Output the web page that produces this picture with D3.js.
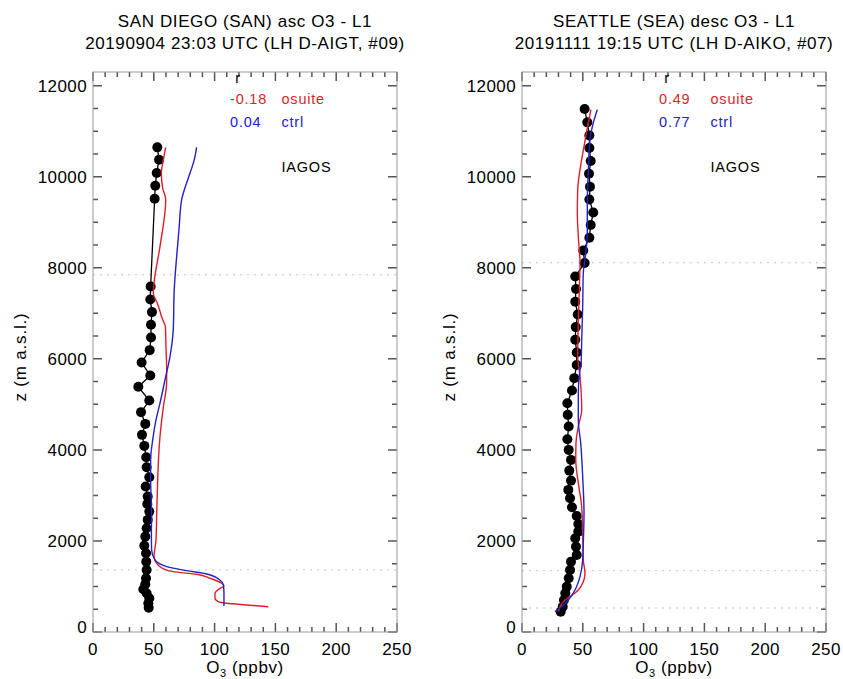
<!DOCTYPE html>
<html>
<head>
<meta charset="utf-8">
<script src="https://cdn.jsdelivr.net/npm/d3@7"></script>
<style>
  body { margin: 0; background: #fff; }
  text { font-family: "Liberation Sans", Arial, sans-serif; }
</style>
</head>
<body>
<svg width="843" height="679"></svg>
<script>
// ---- data: [O3 ppbv, altitude m] ----
const sanObs = [
  [52.9, 10645], [54.3, 10374], [52.4, 10080], [51.2, 9802], [50.7, 9516],
  [47.4, 7590], [47.1, 7303], [48.5, 7026], [47.7, 6747], [47.7, 6468],
  [46.6, 6191], [40.0, 5919], [47.1, 5633], [37.3, 5385], [46.3, 5084],
  [39.5, 4829], [43.0, 4571], [40.3, 4330], [42.2, 4088], [43.8, 3839],
  [44.1, 3620], [46.3, 3400], [43.3, 3194], [45.0, 2974], [44.6, 2810],
  [46.3, 2644], [45.0, 2462], [44.1, 2279], [43.0, 2095], [42.2, 1897],
  [43.6, 1729], [43.8, 1545], [44.1, 1363], [43.6, 1180], [43.0, 1050],
  [41.4, 938], [44.1, 850], [46.3, 740], [45.5, 630], [45.8, 535]
];
const sanOsuite = [
  [59.8, 10645], [57.9, 10374], [56.2, 10080], [57.3, 9752], [59.8, 9495],
  [55.1, 8468], [50.2, 7663], [49.6, 7443], [52.9, 7223], [57.3, 6857],
  [59.5, 6710], [60.0, 6270], [60.6, 5758], [60.5, 5450], [57.9, 4952],
  [55.1, 4293], [54.0, 3853], [53.2, 3341], [52.4, 2608], [51.8, 2022],
  [50.2, 1655], [55.1, 1435], [66.0, 1325], [85.2, 1268], [96.2, 1180],
  [105.8, 1070], [107.7, 1011], [104.4, 960], [100.3, 850], [100.3, 740],
  [103.0, 666], [109.9, 630], [126.4, 593], [144.2, 556]
];
const sanCtrl = [
  [85.2, 10645], [83.3, 10374], [79.8, 10080], [74.3, 9642], [72.9, 9495],
  [70.7, 8835], [68.8, 8249], [66.8, 7516], [66.0, 6637], [63.3, 6051],
  [59.2, 5538], [55.1, 5026], [51.8, 4659], [49.1, 4220], [47.4, 3780],
  [47.4, 3341], [48.2, 2608], [48.0, 2169], [48.2, 1802], [51.0, 1582],
  [60.6, 1435], [77.0, 1347], [93.5, 1275], [104.4, 1143], [107.2, 1033],
  [107.7, 850], [107.7, 571]
];
const seaObs = [
  [51.5, 11488], [53.7, 11194], [55.4, 10908], [55.4, 10631], [56.5, 10345],
  [55.1, 10066], [55.9, 9780], [55.4, 9501], [58.6, 9215], [56.5, 8938],
  [55.4, 8659], [50.4, 8380], [51.5, 8103], [43.8, 7809], [44.4, 7532],
  [43.8, 7253], [45.8, 6974], [44.2, 6697], [43.8, 6418], [45.0, 6139],
  [45.0, 5865], [43.0, 5576], [41.1, 5303], [37.3, 5026], [37.6, 4769],
  [38.4, 4512], [37.3, 4235], [38.4, 4000], [40.3, 3780], [38.9, 3545],
  [40.3, 3325], [38.1, 3121], [39.5, 2938], [41.1, 2741], [45.0, 2549],
  [46.3, 2374], [46.3, 2205], [43.8, 2059], [44.4, 1875], [45.0, 1692],
  [40.3, 1545], [39.5, 1363], [38.4, 1180], [36.8, 996], [35.6, 850],
  [34.5, 703], [33.5, 556], [31.8, 446]
];
const seaOsuite = [
  [56.7, 11473], [54.5, 11180], [51.0, 10667], [47.7, 10154], [45.8, 9714],
  [45.5, 9202], [46.3, 8688], [47.7, 8103], [47.1, 7516], [46.3, 6784],
  [45.8, 6051], [47.7, 5612], [49.1, 4879], [46.3, 4512], [44.4, 4147],
  [44.2, 3780], [46.3, 3268], [49.1, 2754], [49.9, 2169], [50.4, 1582],
  [51.8, 1290], [50.4, 1106], [46.3, 923], [39.5, 776], [35.4, 703],
  [31.3, 556], [29.9, 446]
];
const seaCtrl = [
  [61.9, 11473], [58.6, 11180], [55.9, 10813], [54.5, 10081], [53.7, 9495],
  [53.7, 8762], [52.1, 8249], [50.4, 7883], [49.9, 7150], [49.1, 6418],
  [48.5, 5831], [47.7, 5758], [46.3, 5246], [46.3, 4659], [48.3, 4147],
  [49.9, 3414], [51.0, 2608], [50.4, 1949], [49.9, 1582], [47.7, 1216],
  [43.6, 923], [38.1, 703], [32.6, 556], [27.1, 446]
];

// dotted reference levels (m)
const sanLevels = [7846, 1363];
const seaLevels = [8110, 1347, 527];

// correlation coefficients
const sanR = ['-0.18', '0.04'];
const seaR = ['0.49', '0.77'];

const sanTitle = ['SAN DIEGO (SAN) asc O3 - L1', '20190904 23:03 UTC (LH D-AIGT, #09)'];
const seaTitle = ['SEATTLE (SEA) desc O3 - L1', '20191111 19:15 UTC (LH D-AIKO, #07)'];

const xTicks = [0, 50, 100, 150, 200, 250];
const yTicks = [0, 2000, 4000, 6000, 8000, 10000, 12000];
const xMinor = d3.range(10, 250, 10).filter(v => v % 50 !== 0);
const yMinor = d3.range(500, 12300, 500).filter(v => v % 2000 !== 0);

// ---- layout ----
const svg = d3.select('svg');
const plotTop = 72, plotBottom = 632, boxW = 304;
const red = '#dc1f2b', blue = '#2222c8', frameColor = '#555';

const y = d3.scaleLinear().domain([0, 12300]).range([plotBottom, plotTop]);

const drawPanel = (x0, p) => {
  const x = d3.scaleLinear().domain([0, 250]).range([x0, x0 + boxW]);
  const x1 = x0 + boxW;
  const g = svg.append('g');

  // titles
  g.selectAll('text.title').data(p.title).enter().append('text')
      .attr('x', x0 + boxW / 2)
      .attr('y', (d, i) => 27 + i * 22)
      .attr('text-anchor', 'middle')
      .attr('font-size', 17)
      .attr('letter-spacing', 0.6)
      .text(d => d);

  // dotted levels
  g.selectAll('line.level').data(p.levels).enter().append('line')
      .attr('x1', x0).attr('x2', x1)
      .attr('y1', d => y(d)).attr('y2', d => y(d))
      .attr('stroke', '#c4c4c4').attr('stroke-width', 1)
      .attr('stroke-dasharray', '2,5');

  // ticks on all four sides, pointing inward (drawn as one path)
  let tp = '';
  xMinor.forEach(v => { tp += `M${x(v)},${plotBottom}v-5M${x(v)},${plotTop}v5`; });
  xTicks.forEach(v => { tp += `M${x(v)},${plotBottom}v-9M${x(v)},${plotTop}v9`; });
  yMinor.forEach(v => { tp += `M${x0},${y(v)}h5M${x1},${y(v)}h-5`; });
  yTicks.forEach(v => { tp += `M${x0},${y(v)}h9M${x1},${y(v)}h-9`; });
  g.append('path')
      .attr('d', tp)
      .attr('fill', 'none')
      .attr('stroke', frameColor).attr('stroke-width', 1.5);

  g.append('rect')
      .attr('x', x0).attr('y', plotTop)
      .attr('width', boxW).attr('height', plotBottom - plotTop)
      .attr('fill', 'none').attr('stroke', '#999').attr('stroke-width', 1);

  // tick labels
  g.selectAll('text.xl').data(xTicks).enter().append('text')
      .attr('x', d => x(d)).attr('y', 655)
      .attr('text-anchor', 'middle').attr('font-size', 17)
      .attr('letter-spacing', 0.4)
      .text(d => d);
  g.selectAll('text.yl').data(yTicks).enter().append('text')
      .attr('x', x0 - 6)
      .attr('y', d => d === 0 ? y(d) - 5 : y(d))
      .attr('dy', '0.36em')
      .attr('text-anchor', 'end').attr('font-size', 17)
      .attr('letter-spacing', 0.4)
      .text(d => d);

  // axis titles
  const xTitle = g.append('text')
      .attr('x', x0 + boxW / 2).attr('y', 673)
      .attr('text-anchor', 'middle').attr('font-size', 17)
      .attr('letter-spacing', 0.6);
  xTitle.append('tspan').text('O');
  xTitle.append('tspan').attr('font-size', 11).attr('dy', 4).text('3');
  xTitle.append('tspan').attr('dy', -4).text(' (ppbv)');

  g.append('text')
      .attr('transform', `translate(${x0 - 67},${(plotTop + plotBottom) / 2 + 5}) rotate(-90)`)
      .attr('text-anchor', 'middle').attr('font-size', 17)
      .attr('letter-spacing', 0.8)
      .text('z (m a.s.l.)');

  // observations
  const line = d3.line().x(d => x(d[0])).y(d => y(d[1]));
  g.append('path').datum(p.obs)
      .attr('d', line)
      .attr('fill', 'none').attr('stroke', '#000').attr('stroke-width', 1.3);
  g.selectAll('circle').data(p.obs).enter().append('circle')
      .attr('cx', d => x(d[0])).attr('cy', d => y(d[1]))
      .attr('r', 5).attr('fill', '#000');

  // models
  const curve = d3.line().curve(d3.curveMonotoneY).x(d => x(d[0])).y(d => y(d[1]));
  g.append('path').datum(p.osuite)
      .attr('d', curve)
      .attr('fill', 'none').attr('stroke', red).attr('stroke-width', 1.4);
  g.append('path').datum(p.ctrl)
      .attr('d', curve)
      .attr('fill', 'none').attr('stroke', blue).attr('stroke-width', 1.4);

  // legend
  const fs = 14.5;
  g.append('text').attr('x', x(119)).attr('y', y(12180)).attr('dy', '0.35em')
      .attr('text-anchor', 'middle').attr('font-size', fs).attr('fill', '#000').text('r');
  [[p.r[0], 'osuite', red], [p.r[1], 'ctrl', blue]].forEach((row, i) => {
    const zz = i === 0 ? 11710 : 11210;
    g.append('text').attr('x', x(112.7)).attr('y', y(zz)).attr('dy', '0.35em')
        .attr('font-size', fs).attr('letter-spacing', 0.8)
        .attr('fill', row[2]).text(row[0]);
    g.append('text').attr('x', x(155)).attr('y', y(zz)).attr('dy', '0.35em')
        .attr('font-size', fs).attr('letter-spacing', 0.8)
        .attr('fill', row[2]).text(row[1]);
  });
  g.append('text').attr('x', x(155)).attr('y', y(10220)).attr('dy', '0.35em')
      .attr('font-size', fs).attr('letter-spacing', 0.8).text('IAGOS');
};

drawPanel(93, { title: sanTitle, obs: sanObs, osuite: sanOsuite, ctrl: sanCtrl, r: sanR, levels: sanLevels });
drawPanel(522, { title: seaTitle, obs: seaObs, osuite: seaOsuite, ctrl: seaCtrl, r: seaR, levels: seaLevels });
</script>
</body>
</html>
